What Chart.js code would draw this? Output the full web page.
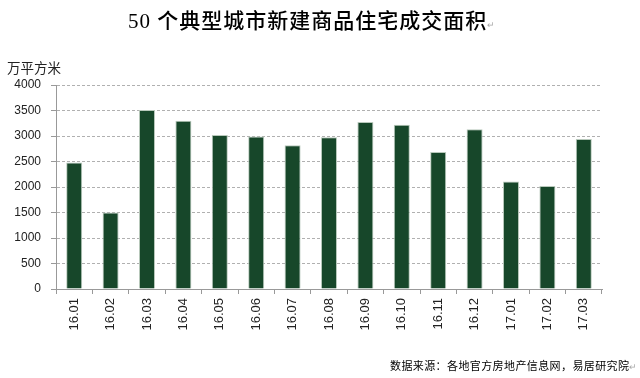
<!DOCTYPE html>
<html lang="zh">
<head>
  <meta charset="UTF-8">
  <title>50个典型城市新建商品住宅成交面积</title>
  <script src="https://cdn.jsdelivr.net/npm/chart.js"></script>
  <style>
    body { margin: 0; background: #fff; }
    #wrap { position: relative; width: 640px; height: 378px; overflow: hidden; }
    #chart { position: absolute; left: 0; top: 0; }
    .txt { position: absolute; white-space: nowrap; color: #000; }
    #title {
      left: 128px; top: 11px;
      font-family: "Liberation Serif", "Noto Sans CJK SC", serif;
      font-size: 21px; line-height: 21px; font-weight: 500;
      letter-spacing: 1px;
    }
    #unit {
      left: 7px; top: 59px;
      font-family: "Noto Sans CJK SC", sans-serif;
      font-size: 13.5px; line-height: 16px; color: #222;
    }
    #source {
      left: 390px; top: 358px;
      font-family: "Noto Sans CJK SC", sans-serif;
      font-size: 11px; line-height: 14px;
      letter-spacing: 0.4px;
    }
    .mark { color: #aaa; font-size: 9px; }
  </style>
</head>
<body>
<div id="wrap">
  <canvas id="chart" width="640" height="378"></canvas>
  <div class="txt" id="title">50 个典型城市新建商品住宅成交面积<span class="mark">↵</span></div>
  <div class="txt" id="unit">万平方米</div>
  <div class="txt" id="source">数据来源：各地官方房地产信息网，易居研究院<span class="mark">↵</span></div>
</div>

<script>
  // months on the x axis
  const months = ['16.01', '16.02', '16.03', '16.04', '16.05', '16.06', '16.07', '16.08',
                  '16.09', '16.10', '16.11', '16.12', '17.01', '17.02', '17.03'];
  // transaction area, 10k square metres
  const area = [2480, 1500, 3510, 3300, 3020, 2990, 2820, 2975,
                3275, 3220, 2685, 3130, 2110, 2020, 2940];
  const yTicks = [0, 500, 1000, 1500, 2000, 2500, 3000, 3500, 4000];

  const ctx = document.getElementById('chart').getContext('2d');
  new Chart(ctx, {
    type: 'bar',
    data: {
      labels: months,
      datasets: [{
        data: area,
        backgroundColor: '#17472a',
        borderColor: '#b9c9bc',
        borderWidth: 1,
        barPercentage: 0.44,
        categoryPercentage: 1
      }]
    },
    options: {
      responsive: false,
      animation: false,
      layout: { padding: { top: 85, right: 38, left: 0, bottom: 0 } },
      plugins: {
        legend: { display: false },
        tooltip: { enabled: false }
      },
      scales: {
        x: {
          afterFit: s => { s.height = 89; },
          grid: {
            offset: true,
            drawOnChartArea: false,
            tickLength: 5,
            color: '#999'
          },
          border: { color: '#999', width: 1 },
          ticks: {
            minRotation: 90,
            maxRotation: 90,
            padding: 4,
            color: '#222',
            font: { family: 'Liberation Sans', size: 13 }
          }
        },
        y: {
          min: 0,
          max: 4000,
          afterFit: s => { s.width = 56; },
          afterBuildTicks: s => { s.ticks = yTicks.map(v => ({ value: v })); },
          grid: {
            color: '#b0b0b0',
            tickColor: '#999',
            tickLength: 5,
            tickBorderDash: []
          },
          border: { color: '#999', width: 1, dash: [3, 2] },
          ticks: {
            padding: 10,
            color: '#222',
            font: { family: 'Liberation Sans', size: 12 },
            callback: v => String(v)
          }
        }
      }
    }
  });
</script>
</body>
</html>
